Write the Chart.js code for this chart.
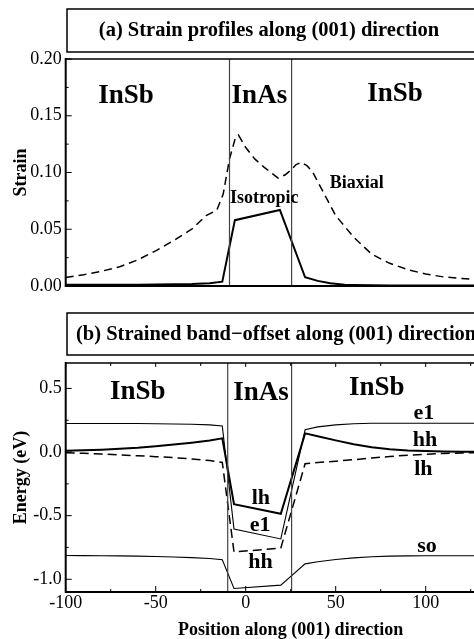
<!DOCTYPE html>
<html><head><meta charset="utf-8">
<script src="https://cdn.jsdelivr.net/npm/chart.js@4.4.1/dist/chart.umd.min.js"></script>
<style>
html,body{margin:0;padding:0;background:#fff;overflow:hidden;width:474px;height:639px;}
#wrap{position:relative;width:474px;height:639px;overflow:hidden;}
canvas{position:absolute;left:0;}
#c1{top:0;}
#c2{top:300px;}
</style></head><body>
<div id="wrap"><canvas id="c1" width="560" height="300"></canvas><canvas id="c2" width="560" height="339"></canvas></div>
<script>
// ---------- Panel (a): strain ----------
const strainX = [-100,-90,-80,-70,-60,-50,-40,-30,-22,-16,-12.5,-9,-6,-4,0,5,10,18,22,25,28,31,34,37,43,50,60,70,80,90,100,110,120,130,140,150];
const biaxial = [0.0075,0.010,0.013,0.017,0.023,0.031,0.040,0.050,0.062,0.067,0.081,0.112,0.129,0.133,0.122,0.112,0.105,0.095,0.098,0.102,0.107,0.109,0.106,0.101,0.083,0.062,0.043,0.028,0.020,0.0145,0.0105,0.008,0.0065,0.0055,0.005,0.0045];
const isoX = [-100,-80,-60,-40,-30,-20,-13,-6,19,33,40,47,55,60,70,80,100,120,150];
const isotropic = [0.001,0.001,0.0012,0.0015,0.0018,0.0025,0.0038,0.058,0.067,0.0077,0.0045,0.0024,0.0012,0.0009,0.0006,0.0005,0.0004,0.0004,0.0004];
const strainTicks = [0, 0.05, 0.10, 0.15, 0.20];
const strainInterfaces = [-9, 25.5];

// ---------- Panel (b): band offsets ----------
const bandX = [-100,-90,-80,-70,-60,-50,-40,-30,-20,-13,-6.5,19.5,33,40,50,60,70,80,90,100,110,120,130,140,150];
const e1 = [0.225,0.225,0.225,0.224,0.224,0.223,0.221,0.219,0.214,0.205,-0.605,-0.683,0.175,0.198,0.214,0.222,0.226,0.227,0.227,0.227,0.227,0.227,0.227,0.227,0.227];
const hh = [0.010,0.014,0.019,0.026,0.034,0.046,0.059,0.074,0.091,0.108,-0.410,-0.485,0.147,0.125,0.092,0.062,0.038,0.022,0.013,0.008,0.005,0.003,0.003,0.002,0.002];
const lh = [-0.005,-0.010,-0.016,-0.022,-0.029,-0.036,-0.044,-0.054,-0.067,-0.082,-0.785,-0.755,-0.092,-0.083,-0.072,-0.060,-0.047,-0.035,-0.025,-0.017,-0.011,-0.007,-0.005,-0.004,-0.003];
const so = [-0.813,-0.814,-0.815,-0.816,-0.818,-0.821,-0.825,-0.830,-0.837,-0.847,-1.072,-1.046,-0.879,-0.862,-0.845,-0.832,-0.823,-0.818,-0.816,-0.815,-0.815,-0.815,-0.815,-0.815,-0.815];
const energyTicks = [-1.0, -0.5, 0.0, 0.5];
const positionTicks = [-100, -50, 0, 50, 100, 150];
const bandInterfaces = [-10, 25.5];

// ---------- text annotations (data coordinates) ----------
const strainLabels = [
  {t:'InSb', x:-66.5, y:0.161, s:27},
  {t:'InAs', x:7.6, y:0.161, s:27},
  {t:'InSb', x:83, y:0.163, s:27},
  {t:'Isotropic', x:10.3, y:0.0729, s:18},
  {t:'Biaxial', x:61.7, y:0.0866, s:18}
];
const bandLabels = [
  {t:'InSb', x:-60, y:0.418, s:27},
  {t:'InAs', x:8.5, y:0.41, s:27},
  {t:'InSb', x:72.8, y:0.45, s:27},
  {t:'e1', x:99, y:0.26, s:22},
  {t:'hh', x:99.6, y:0.047, s:22},
  {t:'lh', x:98.7, y:-0.182, s:22},
  {t:'so', x:100.7, y:-0.787, s:22},
  {t:'lh', x:8.4, y:-0.41, s:22},
  {t:'e1', x:8, y:-0.621, s:22},
  {t:'hh', x:8.2, y:-0.91, s:22}
];

const SERIF = '"Liberation Serif", "Times New Roman", serif';
const pts = (xs, ys) => xs.map((x, i) => ({x, y: ys[i]}));

const decoPlugin = {
  id: 'deco',
  afterDatasetsDraw(chart, args, o) {
    const {ctx, scales: {x, y}} = chart;
    ctx.save();
    ctx.fillStyle = '#000';
    ctx.textAlign = 'center';
    ctx.textBaseline = 'alphabetic';
    o.labels.forEach(l => {
      ctx.font = 'bold ' + l.s + 'px ' + SERIF;
      ctx.fillText(l.t, x.getPixelForValue(l.x), y.getPixelForValue(l.y));
    });
    ctx.restore();
  },
  afterDraw(chart, args, o) {
    const {ctx, chartArea: a, scales: {x, y}} = chart;
    ctx.save();
    ctx.strokeStyle = '#000';
    ctx.lineWidth = 1;
    const ticks = (scale, step, fn) => {
      const start = Math.ceil(scale.min / step - 1e-6);
      const end = Math.floor(scale.max / step + 1e-6);
      for (let k = start; k <= end; k++) fn(scale.getPixelForValue(k * step), k % 2 === 0);
    };
    ticks(y, o.yStep / 2, (p, major) => {
      const L = major ? 6 : 3;
      ctx.beginPath(); ctx.moveTo(a.left, p); ctx.lineTo(a.left + L, p); ctx.stroke();
    });
    if (o.xStep) {
      ticks(x, o.xStep / 2, (p, major) => {
        const L = major ? 6 : 3;
        ctx.beginPath(); ctx.moveTo(p, a.bottom); ctx.lineTo(p, a.bottom - L); ctx.stroke();
        ctx.beginPath(); ctx.moveTo(p, a.top); ctx.lineTo(p, a.top + (major ? 4 : 3)); ctx.stroke();
      });
    }
    ctx.lineWidth = 1.5;
    ctx.beginPath(); ctx.moveTo(a.left, a.top); ctx.lineTo(a.right, a.top); ctx.lineTo(a.right, a.bottom); ctx.stroke();
    ctx.lineWidth = 2;
    ctx.beginPath(); ctx.moveTo(a.left, a.top - 1); ctx.lineTo(a.left, a.bottom); ctx.lineTo(a.right, a.bottom); ctx.stroke();
    ctx.lineWidth = 1.5;
    ctx.strokeRect(o.box[0], o.box[1], o.box[2], o.box[3]);
    ctx.fillStyle = '#000';
    ctx.font = 'bold 20.5px ' + SERIF;
    ctx.textAlign = o.titleAlign;
    ctx.textBaseline = 'middle';
    ctx.fillText(o.title, o.titleX, o.titleY);
    ctx.restore();
  }
};

function fixAxis(w, h) {
  return s => {
    if (w !== null) s.width = w;
    if (h !== null) s.height = h;
    s.paddingTop = 0; s.paddingBottom = 0; s.paddingLeft = 0; s.paddingRight = 0;
  };
}
const setTicks = arr => s => { s.ticks = arr.map(v => ({value: v})); };

function vline(xv, ymin, ymax) {
  return {data: [{x: xv, y: ymin}, {x: xv, y: ymax}], borderColor: '#444', borderWidth: 1.2, pointRadius: 0, fill: false};
}

new Chart(document.getElementById('c1'), {
  type: 'line',
  data: {
    datasets: [
      ...strainInterfaces.map(v => vline(v, 0, 0.2)),
      {label: 'Biaxial', data: pts(strainX, biaxial), borderColor: '#000', borderWidth: 1.5, borderDash: [8, 5], pointRadius: 0, fill: false},
      {label: 'Isotropic', data: pts(isoX, isotropic), borderColor: '#000', borderWidth: 2, pointRadius: 0, fill: false}
    ]
  },
  options: {
    responsive: false, animation: false, devicePixelRatio: 1,
    layout: {padding: {left: 0, top: 59, right: 44.3, bottom: 0}},
    plugins: {
      legend: {display: false}, tooltip: {enabled: false},
      deco: {labels: strainLabels, yStep: 0.05, xStep: 0, box: [67, 9, 560, 43], title: '(a) Strain profiles along (001) direction', titleX: 269, titleY: 31, titleAlign: 'center'}
    },
    scales: {
      x: {type: 'linear', min: -100, max: 150, afterFit: fixAxis(null, 14),
          grid: {display: false, drawTicks: false}, border: {display: false}, ticks: {display: false}},
      y: {type: 'linear', min: 0, max: 0.2, afterFit: fixAxis(65.7, null), afterBuildTicks: setTicks(strainTicks),
          grid: {display: false, drawTicks: false}, border: {display: false},
          ticks: {color: '#000', padding: 4, font: {family: SERIF, size: 18}, callback: v => Number(v).toFixed(2)},
          title: {display: true, text: 'Strain', color: '#000', font: {family: SERIF, size: 18, weight: 'bold', lineHeight: 1}, padding: {top: 12.7, bottom: 0}}}
    }
  },
  plugins: [decoPlugin]
});

new Chart(document.getElementById('c2'), {
  type: 'line',
  data: {
    datasets: [
      ...bandInterfaces.map(v => vline(v, -1.1, 0.7)),
      {label: 'e1', data: pts(bandX, e1), borderColor: '#000', borderWidth: 1.1, pointRadius: 0, fill: false},
      {label: 'hh', data: pts(bandX, hh), borderColor: '#000', borderWidth: 2, pointRadius: 0, fill: false},
      {label: 'lh', data: pts(bandX, lh), borderColor: '#000', borderWidth: 1.5, borderDash: [9, 5], pointRadius: 0, fill: false},
      {label: 'so', data: pts(bandX, so), borderColor: '#000', borderWidth: 1.1, pointRadius: 0, fill: false}
    ]
  },
  options: {
    responsive: false, animation: false, devicePixelRatio: 1,
    layout: {padding: {left: 0, top: 63, right: 44.3, bottom: 0}},
    plugins: {
      legend: {display: false}, tooltip: {enabled: false},
      deco: {labels: bandLabels, yStep: 0.5, xStep: 50, box: [67, 13, 560, 42], title: '(b) Strained band\u2212offset along (001) direction', titleX: 76, titleY: 35, titleAlign: 'left'}
    },
    scales: {
      x: {type: 'linear', min: -100, max: 150, afterFit: fixAxis(null, 47), afterBuildTicks: setTicks(positionTicks),
          grid: {display: false, drawTicks: false}, border: {display: false},
          ticks: {color: '#000', padding: 0, maxRotation: 0, autoSkip: false, font: {family: SERIF, size: 18}, callback: v => String(Math.round(v))},
          title: {display: true, text: 'Position along (001) direction', color: '#000', font: {family: SERIF, size: 18, weight: 'bold', lineHeight: 1}, padding: {top: 0, bottom: 0}}},
      y: {type: 'linear', min: -1.1, max: 0.7, afterFit: fixAxis(65.7, null), afterBuildTicks: setTicks(energyTicks),
          grid: {display: false, drawTicks: false}, border: {display: false},
          ticks: {color: '#000', padding: 4, font: {family: SERIF, size: 18}, callback: v => Number(v).toFixed(1)},
          title: {display: true, text: 'Energy (eV)', color: '#000', font: {family: SERIF, size: 18, weight: 'bold', lineHeight: 1}, padding: {top: 12.7, bottom: 0}}}
    }
  },
  plugins: [decoPlugin]
});
</script>
</body></html>
